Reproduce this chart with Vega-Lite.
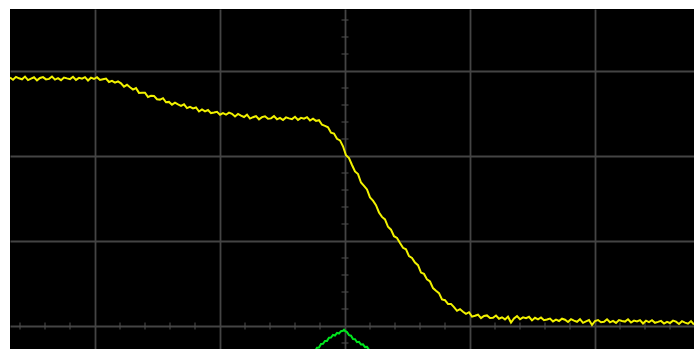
{
  "$schema": "https://vega.github.io/schema/vega-lite/v6.json",
  "width": 684,
  "height": 340,
  "autosize": {"type": "none"},
  "padding": {"left": 10, "top": 9, "right": 0, "bottom": 0},
  "background": "white",
  "view": {"fill": "black", "stroke": null},
  "config": {
    "axis": {"labels": false, "ticks": false, "domain": false, "title": null, "grid": true, "gridColor": "#444444", "gridWidth": 1.8, "gridOpacity": 1}
  },
  "datasets": {
    "ch1": [
      {"t": -335, "v": 248.4}, {"t": -332, "v": 246.2}, {"t": -329, "v": 249.1}, {"t": -326, "v": 247.7},
      {"t": -323, "v": 246.7}, {"t": -320, "v": 249.4}, {"t": -317, "v": 245.9}, {"t": -314, "v": 247.4},
      {"t": -311, "v": 248.7}, {"t": -308, "v": 245.6}, {"t": -305, "v": 248.0}, {"t": -302, "v": 248.9},
      {"t": -299, "v": 246.6}, {"t": -296, "v": 247.1}, {"t": -293, "v": 249.5}, {"t": -290, "v": 246.4},
      {"t": -287, "v": 247.8}, {"t": -284, "v": 245.8}, {"t": -281, "v": 248.5}, {"t": -278, "v": 247.6},
      {"t": -275, "v": 246.9}, {"t": -272, "v": 249.2}, {"t": -269, "v": 246.1}, {"t": -266, "v": 248.1},
      {"t": -263, "v": 247.3}, {"t": -260, "v": 248.8}, {"t": -257, "v": 245.5}, {"t": -254, "v": 248.3},
      {"t": -251, "v": 247.0}, {"t": -248, "v": 248.8}, {"t": -245, "v": 246.0}, {"t": -242, "v": 246.7},
      {"t": -239, "v": 247.4}, {"t": -236, "v": 244.0}, {"t": -233, "v": 245.2}, {"t": -230, "v": 243.3},
      {"t": -227, "v": 244.7}, {"t": -224, "v": 242.7}, {"t": -221, "v": 239.4}, {"t": -218, "v": 241.2},
      {"t": -215, "v": 238.7}, {"t": -212, "v": 236.4}, {"t": -209, "v": 237.9}, {"t": -206, "v": 233.1},
      {"t": -203, "v": 233.3}, {"t": -200, "v": 233.3}, {"t": -197, "v": 229.0}, {"t": -194, "v": 230.2},
      {"t": -191, "v": 230.1}, {"t": -188, "v": 226.8}, {"t": -185, "v": 226.4}, {"t": -182, "v": 227.8},
      {"t": -179, "v": 223.7}, {"t": -176, "v": 224.1}, {"t": -173, "v": 221.3}, {"t": -170, "v": 223.3},
      {"t": -167, "v": 221.6}, {"t": -164, "v": 220.2}, {"t": -161, "v": 221.7}, {"t": -158, "v": 217.9},
      {"t": -155, "v": 219.1}, {"t": -152, "v": 217.6}, {"t": -149, "v": 218.5}, {"t": -146, "v": 214.5},
      {"t": -143, "v": 216.6}, {"t": -140, "v": 214.6}, {"t": -137, "v": 216.0}, {"t": -134, "v": 212.9},
      {"t": -131, "v": 213.5}, {"t": -128, "v": 214.2}, {"t": -125, "v": 211.3}, {"t": -122, "v": 212.8},
      {"t": -119, "v": 211.3}, {"t": -116, "v": 213.4}, {"t": -113, "v": 212.2}, {"t": -110, "v": 209.6},
      {"t": -107, "v": 212.1}, {"t": -104, "v": 210.3}, {"t": -101, "v": 209.0}, {"t": -98, "v": 211.3},
      {"t": -95, "v": 207.4}, {"t": -92, "v": 208.8}, {"t": -89, "v": 209.9}, {"t": -86, "v": 206.7},
      {"t": -83, "v": 208.9}, {"t": -80, "v": 209.7}, {"t": -77, "v": 207.2}, {"t": -74, "v": 207.6},
      {"t": -71, "v": 209.9}, {"t": -68, "v": 206.7}, {"t": -65, "v": 208.1}, {"t": -62, "v": 206.0},
      {"t": -59, "v": 208.6}, {"t": -56, "v": 207.6}, {"t": -53, "v": 206.9}, {"t": -50, "v": 209.2},
      {"t": -47, "v": 206.1}, {"t": -44, "v": 208.1}, {"t": -41, "v": 207.3}, {"t": -38, "v": 208.8},
      {"t": -35, "v": 205.5}, {"t": -32, "v": 207.4}, {"t": -29, "v": 205.1}, {"t": -26, "v": 205.8},
      {"t": -23, "v": 201.3}, {"t": -20, "v": 200.2}, {"t": -17, "v": 198.7}, {"t": -14, "v": 193.3},
      {"t": -11, "v": 192.4}, {"t": -8, "v": 187.2}, {"t": -5, "v": 185.6}, {"t": -2, "v": 179.7},
      {"t": 1, "v": 170.7}, {"t": 4, "v": 168.0}, {"t": 7, "v": 161.0}, {"t": 10, "v": 154.5},
      {"t": 13, "v": 151.9}, {"t": 16, "v": 143.5}, {"t": 19, "v": 140.2}, {"t": 22, "v": 136.6},
      {"t": 25, "v": 128.6}, {"t": 28, "v": 125.4}, {"t": 31, "v": 120.9}, {"t": 34, "v": 113.5},
      {"t": 37, "v": 109.1}, {"t": 40, "v": 106.6}, {"t": 43, "v": 99.2}, {"t": 46, "v": 96.3},
      {"t": 49, "v": 89.8}, {"t": 52, "v": 88.0}, {"t": 55, "v": 82.9}, {"t": 58, "v": 78.2},
      {"t": 61, "v": 76.7}, {"t": 64, "v": 69.9}, {"t": 67, "v": 68.1}, {"t": 70, "v": 63.4},
      {"t": 73, "v": 60.8}, {"t": 76, "v": 53.4}, {"t": 79, "v": 52.1}, {"t": 82, "v": 46.6},
      {"t": 85, "v": 44.5}, {"t": 88, "v": 37.9}, {"t": 91, "v": 35.3}, {"t": 94, "v": 32.9},
      {"t": 97, "v": 26.5}, {"t": 100, "v": 25.8}, {"t": 103, "v": 22.1}, {"t": 106, "v": 22.1},
      {"t": 109, "v": 18.9}, {"t": 112, "v": 15.2}, {"t": 115, "v": 16.9}, {"t": 118, "v": 14.3},
      {"t": 121, "v": 12.2}, {"t": 124, "v": 13.8}, {"t": 127, "v": 9.4}, {"t": 130, "v": 10.3},
      {"t": 133, "v": 11.3}, {"t": 136, "v": 7.9}, {"t": 139, "v": 10.0}, {"t": 142, "v": 10.6},
      {"t": 145, "v": 8.0}, {"t": 148, "v": 8.2}, {"t": 151, "v": 10.5}, {"t": 154, "v": 7.3},
      {"t": 157, "v": 8.7}, {"t": 160, "v": 6.6}, {"t": 163, "v": 9.3}, {"t": 166, "v": 3.5},
      {"t": 169, "v": 7.6}, {"t": 172, "v": 9.9}, {"t": 175, "v": 6.7}, {"t": 178, "v": 8.7},
      {"t": 181, "v": 7.8}, {"t": 184, "v": 9.2}, {"t": 187, "v": 5.6}, {"t": 190, "v": 8.2},
      {"t": 193, "v": 6.7}, {"t": 196, "v": 8.5}, {"t": 199, "v": 5.8}, {"t": 202, "v": 6.5},
      {"t": 205, "v": 7.4}, {"t": 208, "v": 4.6}, {"t": 211, "v": 6.3}, {"t": 214, "v": 5.0},
      {"t": 217, "v": 7.3}, {"t": 220, "v": 6.3}, {"t": 223, "v": 4.0}, {"t": 226, "v": 6.8},
      {"t": 229, "v": 5.3}, {"t": 232, "v": 4.2}, {"t": 235, "v": 6.8}, {"t": 238, "v": 3.2},
      {"t": 241, "v": 4.7}, {"t": 244, "v": 5.9}, {"t": 247, "v": 1.0}, {"t": 250, "v": 5.0},
      {"t": 253, "v": 6.0}, {"t": 256, "v": 3.7}, {"t": 259, "v": 4.3}, {"t": 262, "v": 6.7},
      {"t": 265, "v": 3.7}, {"t": 268, "v": 5.1}, {"t": 271, "v": 3.1}, {"t": 274, "v": 5.9},
      {"t": 277, "v": 5.0}, {"t": 280, "v": 4.4}, {"t": 283, "v": 6.7}, {"t": 286, "v": 3.5},
      {"t": 289, "v": 5.4}, {"t": 292, "v": 4.5}, {"t": 295, "v": 5.9}, {"t": 298, "v": 2.5},
      {"t": 301, "v": 5.3}, {"t": 304, "v": 3.9}, {"t": 307, "v": 5.8}, {"t": 310, "v": 3.2},
      {"t": 313, "v": 4.1}, {"t": 316, "v": 5.1}, {"t": 319, "v": 2.4}, {"t": 322, "v": 4.2},
      {"t": 325, "v": 3.0}, {"t": 328, "v": 5.4}, {"t": 331, "v": 4.4}, {"t": 334, "v": 2.0},
      {"t": 337, "v": 4.8}, {"t": 340, "v": 3.4}, {"t": 343, "v": 2.3}, {"t": 346, "v": 4.9},
      {"t": 349, "v": 1.4}
    ],
    "ch2": [
      {"t": -40, "v": -33.5}, {"t": -38, "v": -32.9}, {"t": -36, "v": -29.3}, {"t": -34, "v": -28.9},
      {"t": -32, "v": -25.6}, {"t": -30, "v": -25.3}, {"t": -28, "v": -21.7}, {"t": -26, "v": -21.5},
      {"t": -24, "v": -18.0}, {"t": -22, "v": -17.8}, {"t": -20, "v": -14.9}, {"t": -18, "v": -14.9},
      {"t": -16, "v": -11.7}, {"t": -14, "v": -11.6}, {"t": -12, "v": -9.0}, {"t": -10, "v": -9.5},
      {"t": -8, "v": -6.9}, {"t": -6, "v": -7.5}, {"t": -4, "v": -5.2}, {"t": -2, "v": -4.8},
      {"t": -1, "v": -3.8}, {"t": 0, "v": -5.0}, {"t": 2, "v": -6.1}, {"t": 4, "v": -9.1},
      {"t": 6, "v": -9.7}, {"t": 8, "v": -13.1}, {"t": 10, "v": -13.2}, {"t": 12, "v": -16.2},
      {"t": 14, "v": -15.8}, {"t": 16, "v": -18.5}, {"t": 18, "v": -18.4}, {"t": 20, "v": -21.1},
      {"t": 22, "v": -20.9}, {"t": 24, "v": -23.8}, {"t": 26, "v": -23.95}, {"t": 28, "v": -27.0},
      {"t": 30, "v": -27.5}, {"t": 34, "v": -31.6}, {"t": 40, "v": -37.0}
    ],
    "hticks": [
      {"t": -325}, {"t": -300}, {"t": -275}, {"t": -225}, {"t": -200}, {"t": -175}, {"t": -150},
      {"t": -100}, {"t": -75}, {"t": -50}, {"t": -25}, {"t": 25}, {"t": 50}, {"t": 75},
      {"t": 100}, {"t": 150}, {"t": 175}, {"t": 200}, {"t": 225}, {"t": 275}, {"t": 300},
      {"t": 325}
    ],
    "vticks": [
      {"v": -17}, {"v": 17}, {"v": 34}, {"v": 51}, {"v": 68}, {"v": 102}, {"v": 119},
      {"v": 136}, {"v": 153}, {"v": 187}, {"v": 204}, {"v": 221}, {"v": 238}, {"v": 272},
      {"v": 289}, {"v": 306}
    ]
  },
  "layer": [
    {
      "data": {"name": "hticks"},
      "mark": {"type": "tick", "orient": "vertical", "size": 7, "thickness": 1.6, "color": "#4a4a4a", "clip": true},
      "encoding": {
        "x": {"field": "t", "type": "quantitative", "scale": {"domain": [-335, 349], "nice": false, "zero": false},
              "axis": {"values": [-250, -125, 0, 125, 250]}},
        "y": {"datum": 0, "type": "quantitative", "scale": {"domain": [-23, 317], "nice": false, "zero": false},
              "axis": {"values": [0, 85, 170, 255]}}
      }
    },
    {
      "data": {"name": "vticks"},
      "mark": {"type": "tick", "orient": "horizontal", "size": 7, "thickness": 1.6, "color": "#4a4a4a", "clip": true},
      "encoding": {
        "x": {"datum": 0, "type": "quantitative"},
        "y": {"field": "v", "type": "quantitative"}
      }
    },
    {
      "data": {"name": "ch2"},
      "mark": {"type": "line", "color": "#00e61e", "strokeWidth": 2, "clip": true},
      "encoding": {
        "x": {"field": "t", "type": "quantitative"},
        "y": {"field": "v", "type": "quantitative"}
      }
    },
    {
      "data": {"name": "ch1"},
      "mark": {"type": "line", "color": "#f2f200", "strokeWidth": 2, "clip": true},
      "encoding": {
        "x": {"field": "t", "type": "quantitative"},
        "y": {"field": "v", "type": "quantitative"}
      }
    }
  ]
}
